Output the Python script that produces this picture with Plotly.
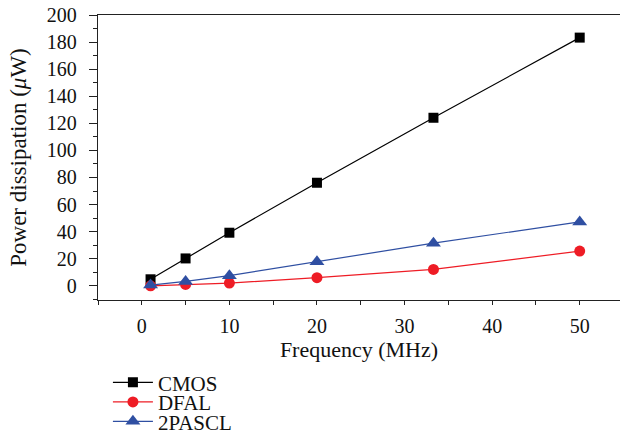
import plotly.graph_objects as go

freq = [1, 5, 10, 20, 33.3, 50]
cmos = [4.8, 20.2, 39.2, 76.1, 124.1, 183.3]
dfal = [0.0, 1.0, 2.0, 6.0, 12.1, 25.6]
pascl = [0.5, 3.2, 7.5, 17.8, 31.5, 47.2]

names = ["CMOS", "DFAL", "2PASCL"]
colors = ["#000000", "#ee1c25", "#2f4fa2"]
symbols = ["square", "circle", "triangle-up"]
sizes = [10, 11, 13]
series = [cmos, dfal, pascl]
legend_ids = ["legend", "legend2", "legend3"]

FONT = "Liberation Serif"

fig = go.Figure()
for nm, c, s, sz, ys, lg in zip(names, colors, symbols, sizes, series, legend_ids):
    fig.add_trace(go.Scatter(
        x=freq, y=ys, name=nm, mode="lines+markers",
        line=dict(color=c, width=1.2),
        marker=dict(color=c, symbol=s, size=sz),
        legend=lg,
    ))

H = 285.0
def leg(yc):
    return dict(x=0.019, y=(300 - yc) / H, xanchor="left", yanchor="middle",
                bgcolor="rgba(0,0,0,0)", font=dict(family=FONT, size=21, color="#111"),
                tracegroupgap=0, itemwidth=40)

fig.update_layout(
    width=620, height=434,
    margin=dict(l=98, r=0, t=15, b=134, autoexpand=False),
    paper_bgcolor="white", plot_bgcolor="white",
    font=dict(family=FONT, size=20, color="#111"),
    showlegend=True,
    legend=leg(382.7), legend2=leg(402.3), legend3=leg(421.7),
    xaxis=dict(
        range=[-5, 54.6], tickvals=[0, 10, 20, 30, 40, 50],
        ticks="outside", ticklen=4, tickwidth=1, tickcolor="#222",
        minor=dict(dtick=5, ticks="outside", ticklen=4, tickwidth=1, tickcolor="#222"),
        showgrid=False, zeroline=False,
        showline=True, linecolor="#222", linewidth=1.3, mirror=True,
        title=dict(text="Frequency (MHz)", font=dict(size=22), standoff=3),
        tickfont=dict(size=20), ticklabelstandoff=4,
    ),
    yaxis=dict(
        range=[-10.5, 200], tickvals=list(range(0, 201, 20)),
        ticks="outside", ticklen=8, tickwidth=1, tickcolor="#222",
        minor=dict(dtick=10, ticks="outside", ticklen=4, tickwidth=1, tickcolor="#222"),
        showgrid=False, zeroline=False,
        showline=True, linecolor="#222", linewidth=1.3, mirror=False,
        title=dict(text="Power dissipation (<i>μ</i>W)", font=dict(size=23), standoff=13),
        tickfont=dict(size=20), ticklabelstandoff=8,
    ),
)

fig.write_html("out.html")
